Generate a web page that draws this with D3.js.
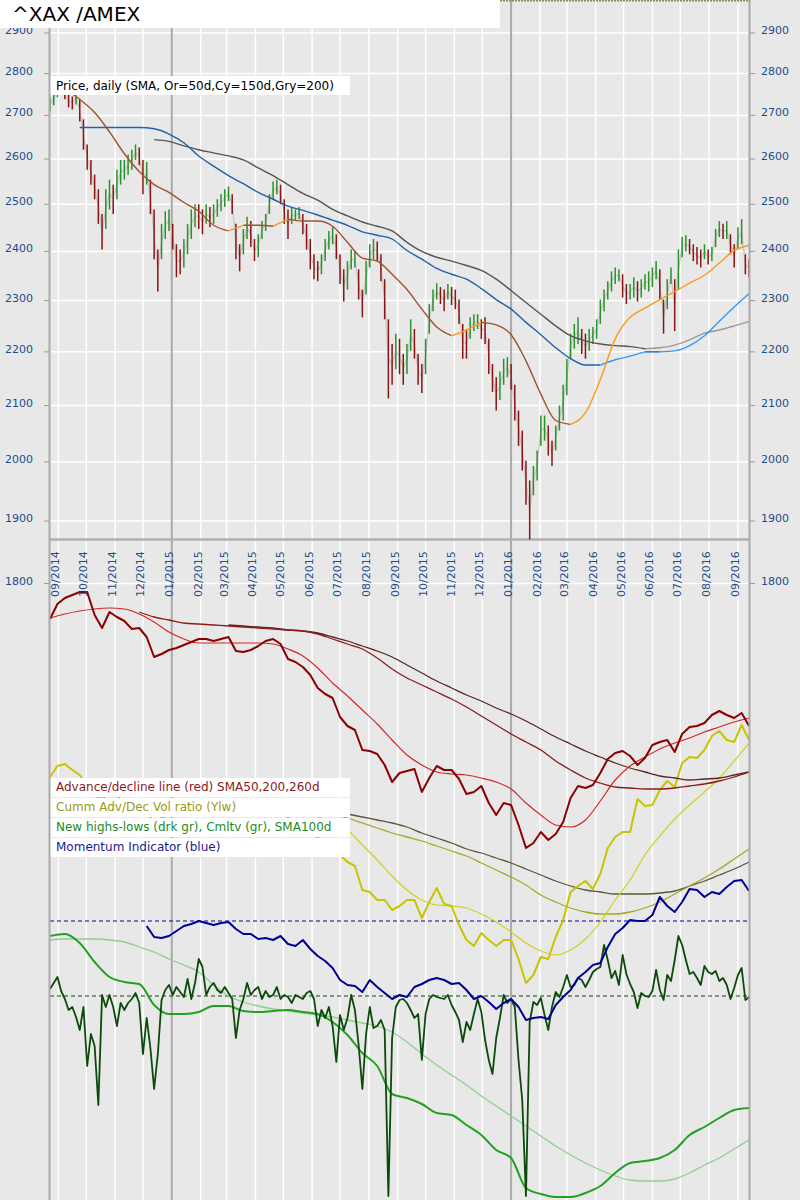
<!DOCTYPE html>
<html><head><meta charset="utf-8">
<script src="https://cdn.jsdelivr.net/npm/d3@7"></script>
<style>html,body{margin:0;padding:0;background:#e8e8e8;}svg{display:block;font-family:"DejaVu Sans",Verdana,sans-serif;}</style>
</head><body>
<svg id="chart" width="800" height="1200"></svg>
<script>
// ---------------- DATA ----------------
const titleText = "^XAX /AMEX";
const priceLegend = "Price, daily (SMA, Or=50d,Cy=150d,Gry=200)";
const lowerLegend = ["Advance/decline line (red) SMA50,200,260d","Cumm Adv/Dec Vol ratio (Ylw)","New highs-lows (drk gr), Cmltv (gr), SMA100d","Momentum Indicator (blue)"];
const START_DATE = "2014-08-23", END_DATE = "2016-09-14";
const BAR_STEP_DAYS = 4, LINE_STEP_DAYS = 8, SMA_STEP_DAYS = 16;
const priceTicks = [2900,2800,2700,2600,2500,2400,2300,2200,2100,2000,1900,1800];
const monthLabels = ["09/2014","10/2014","11/2014","12/2014","01/2015","02/2015","03/2015","04/2015","05/2015","06/2015","07/2015","08/2015","09/2015","10/2015","11/2015","12/2015","01/2016","02/2016","03/2016","04/2016","05/2016","06/2016","07/2016","08/2016","09/2016"];

// price bars (every 4 days)
const priceHigh = [2743,2757,2774,2781,2767,2750,2745,2757,2738,2691,
2633,2598,2565,2533,2479,2533,2554,2543,2576,2598,
2598,2610,2621,2633,2626,2598,2593,2554,2489,2404,
2458,2485,2489,2458,2415,2404,2426,2458,2489,2500,
2500,2489,2500,2494,2500,2511,2522,2533,2539,2522,
2458,2415,2447,2473,2464,2426,2436,2464,2479,2522,
2550,2554,2543,2511,2489,2494,2489,2494,2479,2458,
2426,2394,2380,2394,2426,2443,2451,2436,2394,2363,
2380,2404,2400,2363,2322,2380,2415,2426,2421,2394,
2343,2263,2215,2235,2225,2196,2215,2263,2244,2196,
2177,2225,2293,2322,2335,2327,2322,2333,2327,2322,
2302,2254,2244,2267,2273,2273,2263,2267,2225,2177,
2152,2163,2187,2190,2177,2138,2091,2055,2002,1968,
1993,2020,2082,2082,2064,2037,2064,2100,2138,2187,
2235,2254,2267,2244,2235,2244,2248,2263,2302,2322,
2339,2359,2367,2363,2353,2333,2333,2347,2339,2343,
2353,2359,2367,2380,2363,2302,2343,2367,2343,2404,
2430,2434,2426,2415,2409,2404,2415,2404,2409,2447,
2464,2458,2464,2436,2415,2451,2468,2394,2384];
const priceLow = [2710,2724,2743,2750,2738,2719,2714,2726,2686,2621,
2576,2543,2511,2458,2404,2447,2489,2479,2511,2543,
2554,2565,2576,2598,2586,2522,2543,2479,2384,2318,
2384,2426,2443,2404,2347,2353,2367,2394,2426,2451,
2447,2436,2458,2451,2458,2473,2485,2494,2507,2479,
2384,2359,2394,2426,2409,2380,2388,2426,2443,2479,
2511,2522,2500,2458,2426,2458,2464,2468,2436,2404,
2363,2343,2339,2353,2380,2404,2415,2384,2333,2298,
2322,2363,2367,2302,2267,2312,2367,2384,2380,2339,
2263,2113,2138,2167,2158,2138,2158,2202,2187,2138,
2123,2158,2235,2279,2302,2293,2279,2302,2291,2283,
2254,2187,2187,2225,2240,2244,2225,2215,2158,2125,
2091,2110,2138,2152,2129,2073,2028,1985,1927,1870,
1943,1968,2028,2037,2011,1993,2020,2055,2073,2119,
2187,2206,2215,2196,2187,2202,2215,2225,2254,2279,
2302,2318,2333,2339,2306,2293,2302,2306,2298,2306,
2322,2318,2327,2343,2302,2235,2283,2333,2240,2322,
2388,2400,2394,2380,2373,2367,2384,2373,2380,2409,
2430,2426,2426,2394,2367,2404,2415,2353,2347];

// price SMAs (every 16 days)
const sma50 = [null,2762,2738,2707,2662,2612,2572,2543,2526,2504,2485,2455,2443,2455,2455,2453,2468,2464,2464,2453,2419,2386,2380,2353,2322,2283,2248,2231,2242,2257,2252,2233,2183,2121,2073,2066,2087,2148,2225,2267,2285,2302,2318,2335,2351,2376,2402,2413];
const sma150 = [null,null,2672,2672,2672,2672,2672,2669,2657,2637,2607,2584,2563,2545,2526,2511,2496,2487,2477,2466,2455,2441,2434,2426,2402,2384,2365,2353,2343,2324,2302,2283,2257,2233,2208,2187,2175,2175,2185,2192,2200,2200,2202,2212,2231,2259,2287,2314];
const sma200 = [null,null,null,null,null,null,null,2644,2640,2630,2621,2614,2607,2598,2580,2563,2543,2524,2509,2489,2475,2462,2453,2443,2419,2400,2388,2380,2371,2361,2343,2320,2296,2273,2250,2231,2221,2215,2212,2210,2206,2208,2213,2223,2236,2242,2250,2259];

// lower indicators (every 8 days)
const adLine = [-390,-240,-180,-150,-120,-120,-350,-480,-320,-370,
-410,-490,-480,-570,-770,-740,-700,-680,-650,-620,
-590,-590,-610,-590,-570,-710,-720,-700,-660,-610,
-590,-640,-790,-820,-870,-950,-1080,-1140,-1180,-1370,
-1460,-1500,-1700,-1710,-1740,-1850,-2020,-1930,-1910,-1890,
-2120,-1980,-1860,-1900,-1900,-1990,-2140,-2120,-2060,-2230,
-2350,-2230,-2250,-2450,-2680,-2630,-2520,-2600,-2540,-2420,
-2180,-2060,-2080,-2050,-1930,-1790,-1730,-1710,-1760,-1850,
-1780,-1650,-1620,-1600,-1720,-1540,-1470,-1460,-1430,-1350,
-1310,-1350,-1380,-1330,-1460];
const volRatio = [2.53,2.64,2.66,2.60,2.55,2.45,2.35,2.30,2.38,2.34,
2.27,2.22,2.24,2.18,2.08,2.12,2.15,2.18,2.20,2.22,
2.24,2.22,2.25,2.27,2.30,2.20,2.18,2.20,2.24,2.26,
2.27,2.22,2.12,2.08,2.04,1.98,1.92,1.88,1.82,1.75,
1.68,1.64,1.40,1.38,1.30,1.30,1.20,1.24,1.30,1.30,
1.12,1.28,1.42,1.26,1.24,1.05,0.90,0.84,0.97,0.90,
0.84,0.90,0.90,0.71,0.47,0.55,0.73,0.71,0.93,1.10,
1.38,1.44,1.49,1.41,1.56,1.82,1.93,1.98,1.98,2.31,
2.24,2.25,2.40,2.49,2.43,2.67,2.73,2.72,2.80,2.94,
2.99,2.90,2.88,3.05,2.90];
const momentum = [null,null,null,null,null,null,null,null,null,null,null,null,null,
-0.5,-1.6,-1.7,-1.5,-1.0,-0.5,-0.3,0.0,-0.2,-0.4,
-0.2,-0.1,-0.8,-1.3,-1.3,-1.8,-1.7,-1.9,-1.5,-2.3,
-2.5,-1.9,-2.8,-3.5,-4.0,-4.7,-5.9,-6.4,-6.5,-7.1,
-5.9,-6.6,-7.2,-7.8,-7.4,-7.6,-6.6,-6.3,-5.9,-5.7,
-5.9,-6.3,-6.2,-6.9,-7.8,-7.5,-8.1,-8.8,-8.2,-7.8,
-8.6,-9.9,-9.7,-9.6,-9.8,-8.4,-7.6,-6.9,-5.7,-5.1,
-4.4,-4.2,-2.6,-1.3,-0.7,0.1,0.0,0.0,0.6,2.4,
1.5,0.9,1.9,3.2,3.1,2.4,2.9,2.7,3.4,4.0,
4.1,3.0];
// new highs - new lows (every 4 days)
const newHighsLows = [7,13,19,5,-3,-14,-11,-21,-34,-11,
-70,-38,-50,-109,1,-11,1,-11,-30,-7,
-14,-7,-3,3,-7,-58,-22,-52,-93,-58,
-4,6,11,1,9,4,-1,17,-3,13,
37,29,1,9,13,6,3,9,3,-3,
-42,-14,-3,13,1,6,9,-3,5,-1,
1,9,-3,1,-1,-7,1,-1,-3,3,
5,-3,-30,-14,-22,-11,-30,-66,-19,-34,
-22,1,-14,-49,-93,-38,-11,-32,-30,-24,
-34,-200,-42,-11,-4,-3,-7,-14,-22,-18,
-64,-18,-3,1,-1,-2,-3,1,-9,-16,
-24,-46,-26,-34,-18,-3,-16,-44,-64,-78,
-42,-22,1,-7,-3,-11,-64,-104,-200,-26,
-6,-9,-2,-19,-34,-11,4,-1,9,21,
9,11,18,16,9,16,24,27,29,51,
36,18,25,11,41,22,12,4,-12,3,
0,-1,5,26,6,-4,21,15,36,60,
51,36,22,24,18,11,30,24,22,25,
15,18,11,-3,8,21,28,-4,-1];

// lower smoothed series (every 16 days)
const adSma50 = [-380,-340,-310,-290,-280,-290,-340,-420,-520,-590,-630,-630,-630,-630,-630,-640,-690,-760,-880,-1030,-1160,-1300,-1440,-1600,-1750,-1850,-1920,-1940,-1950,-1980,-2020,-2090,-2230,-2350,-2450,-2470,-2400,-2210,-2000,-1860,-1770,-1690,-1630,-1580,-1520,-1470,-1420,-1380];
const adSma200 = [null,null,null,null,null,null,-320,-370,-400,-430,-440,-450,-460,-470,-480,-490,-500,-510,-540,-590,-640,-690,-780,-890,-980,-1050,-1120,-1190,-1270,-1360,-1450,-1540,-1620,-1700,-1810,-1900,-1980,-2030,-2070,-2080,-2090,-2090,-2080,-2060,-2040,-2010,-1970,-1920];
const adSma260 = [null,null,null,null,null,null,null,null,null,null,null,null,-450,-460,-470,-480,-500,-510,-530,-570,-610,-660,-710,-770,-850,-930,-1010,-1080,-1150,-1210,-1280,-1340,-1410,-1490,-1570,-1640,-1710,-1770,-1830,-1880,-1920,-1960,-1980,-2000,-1990,-1980,-1950,-1920];
const volSmaFast = [null,null,2.40,2.35,2.30,2.27,2.24,2.20,2.18,2.18,2.19,2.20,2.21,2.20,2.20,2.21,2.20,2.18,2.13,2.08,2.00,1.85,1.70,1.54,1.40,1.30,1.25,1.24,1.22,1.16,1.08,0.98,0.87,0.79,0.75,0.80,0.91,1.08,1.30,1.50,1.75,1.94,2.11,2.25,2.38,2.52,2.69,2.87];
const volSmaMid = [null,null,null,null,null,null,null,null,null,null,null,null,null,null,null,null,null,null,2.20,2.16,2.12,2.07,2.02,1.97,1.93,1.89,1.84,1.79,1.74,1.67,1.60,1.53,1.45,1.35,1.28,1.22,1.18,1.16,1.16,1.18,1.22,1.28,1.36,1.44,1.52,1.61,1.71,1.81];
const volSmaSlow = [null,null,null,null,null,null,null,null,null,null,null,null,null,null,null,null,null,null,2.22,2.19,2.16,2.13,2.10,2.07,2.03,1.97,1.92,1.87,1.81,1.77,1.72,1.67,1.61,1.55,1.49,1.44,1.40,1.38,1.36,1.36,1.36,1.37,1.39,1.44,1.49,1.55,1.61,1.68];
const nhlCumulative = [-20,20,-160,-540,-840,-940,-980,-1400,-1580,-1580,-1540,-1420,-1420,-1520,-1540,-1520,-1500,-1540,-1580,-1740,-2000,-2360,-2620,-3180,-3260,-3380,-3560,-3600,-3800,-4000,-4300,-4460,-5060,-5180,-5240,-5240,-5160,-5020,-4760,-4560,-4520,-4460,-4300,-4000,-3840,-3660,-3500,-3460];
const nhlSma100 = [-100,-80,-80,-80,-100,-140,-240,-340,-480,-600,-740,-1000,-1220,-1340,-1420,-1480,-1520,-1560,-1600,-1640,-1700,-1760,-1820,-1940,-2140,-2380,-2600,-2800,-3000,-3220,-3420,-3620,-3820,-4020,-4220,-4400,-4560,-4700,-4820,-4900,-4920,-4920,-4880,-4760,-4600,-4460,-4280,-4100];

// ---------------- CHART ----------------
const svg = d3.select("#chart");
const L = 50, R = 750, H = 1200;
const parseDay = d3.timeParse("%Y-%m-%d");
const parseMonth = d3.timeParse("%m/%Y");
const start = parseDay(START_DATE);
const x = d3.scaleTime().domain([start, parseDay(END_DATE)]).range([L, R]);
const yP = d3.scaleLog().domain([2900, 1800]).range([33, 583.5]);
const yAD = d3.scaleLinear().domain([0, -3000]).range([580, 880]);
const yVol = d3.scaleLinear().domain([0, 3]).range([1030, 730]);
const yNHL = d3.scaleLinear().domain([0, -204]).range([996, 1200]);
const yCum = d3.scaleLinear().domain([0, -5000]).range([935, 1185]);
const yMom = d3.scaleLinear().domain([0, -10]).range([921, 1021]);

const datesFor = (arr, step) => arr.map((_, i) => d3.timeDay.offset(start, i * step));
const barDates = datesFor(priceHigh, BAR_STEP_DAYS);
const lineDates = datesFor(adLine, LINE_STEP_DAYS);
const smaDates = datesFor(sma50, SMA_STEP_DAYS);
const monthDates = monthLabels.map(parseMonth);

svg.append("rect").attr("width", 800).attr("height", H).attr("fill", "#e8e8e8");

// grid
const g = svg.append("g");
g.selectAll(".vg").data(monthDates.filter(d => d.getMonth() !== 0)).join("line")
  .attr("x1", d => x(d)).attr("x2", d => x(d)).attr("y1", 0).attr("y2", H)
  .attr("stroke", "#ffffff").attr("stroke-width", 1.5);
g.selectAll(".hg").data(priceTicks).join("line")
  .attr("x1", L).attr("x2", R).attr("y1", d => yP(d)).attr("y2", d => yP(d))
  .attr("stroke", "#ffffff").attr("stroke-width", 1.5);
g.selectAll(".yl").data(monthDates.filter(d => d.getMonth() === 0)).join("line")
  .attr("x1", d => x(d)).attr("x2", d => x(d)).attr("y1", 0).attr("y2", H)
  .attr("stroke", "#a9a9a9").attr("stroke-width", 2);
g.append("line").attr("x1", L).attr("x2", R).attr("y1", 539.5).attr("y2", 539.5)
  .attr("stroke", "#b0b0b0").attr("stroke-width", 2.5);

// price
const mids = priceHigh.map((h, i) => (h + priceLow[i]) / 2);
svg.append("path").datum(mids)
  .attr("d", d3.line().x((d, i) => x(barDates[i])).y(d => yP(d)))
  .attr("fill", "none").attr("stroke", "#c8c8c8").attr("stroke-width", 1.4);
svg.append("g").selectAll("line").data(priceHigh).join("line")
  .attr("x1", (d, i) => x(barDates[i])).attr("x2", (d, i) => x(barDates[i]))
  .attr("y1", d => yP(d)).attr("y2", (d, i) => yP(priceLow[i]))
  .attr("stroke", (d, i) => (i === 0 || mids[i] >= mids[i - 1]) ? "#2a922a" : "#8b1414")
  .attr("stroke-width", 1.5);

function slopeLine(vals, dates, scale, upC, downC, w) {
  const pts = vals.map((v, i) => ({ v, d: dates[i] })).filter(p => p.v != null);
  const line = d3.line().x(p => x(p.d)).y(p => scale(p.v)).curve(d3.curveMonotoneX);
  let run = [pts[0]], dir = null;
  const flush = (r, up) => svg.append("path").datum(r).attr("d", line).attr("fill", "none")
    .attr("stroke", up ? upC : downC).attr("stroke-width", w);
  for (let i = 1; i < pts.length; i++) {
    const up = pts[i].v > pts[i - 1].v;
    if (dir === null || up === dir) { run.push(pts[i]); dir = up; }
    else { flush(run, dir); run = [pts[i - 1], pts[i]]; dir = up; }
  }
  flush(run, dir);
}
slopeLine(sma200, smaDates, yP, "#9a9a9a", "#555555", 1.4);
slopeLine(sma150, smaDates, yP, "#3399ff", "#2160aa", 1.4);
slopeLine(sma50, smaDates, yP, "#ff9a1a", "#a0522d", 1.4);

// lower panel helpers
function smooth(vals, dates, scale, color, w) {
  const pts = vals.map((v, i) => ({ v, d: dates[i] })).filter(p => p.v != null);
  svg.append("path").datum(pts)
    .attr("d", d3.line().x(p => x(p.d)).y(p => scale(p.v)).curve(d3.curveMonotoneX))
    .attr("fill", "none").attr("stroke", color).attr("stroke-width", w);
}
function jagged(vals, dates, scale, color, w) {
  const pts = vals.map((v, i) => ({ v, d: dates[i] })).filter(p => p.v != null);
  svg.append("path").datum(pts)
    .attr("d", d3.line().x(p => x(p.d)).y(p => scale(p.v)))
    .attr("fill", "none").attr("stroke", color).attr("stroke-width", w).attr("stroke-linejoin", "round");
}
function dashed(yv, color) {
  svg.append("line").attr("x1", L).attr("x2", R).attr("y1", yv).attr("y2", yv)
    .attr("stroke", color).attr("stroke-width", 1.2).attr("stroke-dasharray", "4,3");
}
dashed(yMom(0), "#000099");
dashed(yNHL(0), "#0b4a0b");

smooth(nhlSma100, smaDates, yCum, "#8fcf8f", 1.3);
smooth(nhlCumulative, smaDates, yCum, "#22a022", 2);
jagged(newHighsLows, barDates, yNHL, "#0b4a0b", 1.8);

smooth(volSmaSlow, smaDates, yVol, "#5a5838", 1.3);
smooth(volSmaMid, smaDates, yVol, "#a8a820", 1.3);
smooth(volSmaFast, smaDates, yVol, "#d0d020", 1.2);
jagged(volRatio, lineDates, yVol, "#c8c400", 2);

smooth(adSma260, smaDates, yAD, "#5a2424", 1.3);
smooth(adSma200, smaDates, yAD, "#8b1c1c", 1.3);
smooth(adSma50, smaDates, yAD, "#d02828", 1.2);
jagged(adLine, lineDates, yAD, "#8b0000", 2);

jagged(momentum, lineDates, yMom, "#000099", 2);

// legends
svg.append("rect").attr("x", 50).attr("y", 76).attr("width", 300).attr("height", 19).attr("fill", "#ffffff");
svg.append("text").attr("x", 56).attr("y", 90).attr("font-size", 12).attr("fill", "#000").text(priceLegend);
const legendColors = ["#8b1a1a", "#9a9a10", "#1e8c1e", "#1a1a8c"];
lowerLegend.forEach((t, i) => {
  svg.append("rect").attr("x", 50).attr("y", 778 + 20 * i).attr("width", 300).attr("height", 19).attr("fill", "#ffffff");
  svg.append("text").attr("x", 56).attr("y", 791 + 20 * i).attr("font-size", 12).attr("fill", legendColors[i]).text(t);
});

// borders
svg.append("line").attr("x1", 49.5).attr("x2", 49.5).attr("y1", 0).attr("y2", H).attr("stroke", "#a9a9a9").attr("stroke-width", 2);
svg.append("line").attr("x1", 749.5).attr("x2", 749.5).attr("y1", 0).attr("y2", H).attr("stroke", "#a9a9a9").attr("stroke-width", 2);

// axes labels
const labColor = "#1e4d8c";
const ax = svg.append("g").attr("font-size", 11).attr("fill", labColor);
priceTicks.forEach(t => {
  const yy = yP(t);
  ax.append("text").attr("x", 33).attr("y", yy + 1).attr("text-anchor", "end").text(t);
  ax.append("text").attr("x", 761).attr("y", yy + 1).attr("text-anchor", "start").text(t);
  svg.append("line").attr("x1", 44).attr("x2", 49).attr("y1", yy).attr("y2", yy).attr("stroke", "#999");
  svg.append("line").attr("x1", 750).attr("x2", 755).attr("y1", yy).attr("y2", yy).attr("stroke", "#999");
});
monthDates.forEach((d, i) => {
  ax.append("text").attr("transform", `translate(${x(d) + 1},597) rotate(-90)`).text(monthLabels[i]);
});

// title
svg.append("line").attr("x1", L).attr("x2", R).attr("y1", 0.8).attr("y2", 0.8)
  .attr("stroke", "#8a8a55").attr("stroke-width", 1.6).attr("stroke-dasharray", "2,1");
svg.append("rect").attr("x", 0).attr("y", 0).attr("width", 500).attr("height", 28).attr("fill", "#ffffff");
svg.append("text").attr("x", 12).attr("y", 21).attr("font-size", 20).attr("fill", "#000").text(titleText);
</script>
</body></html>
